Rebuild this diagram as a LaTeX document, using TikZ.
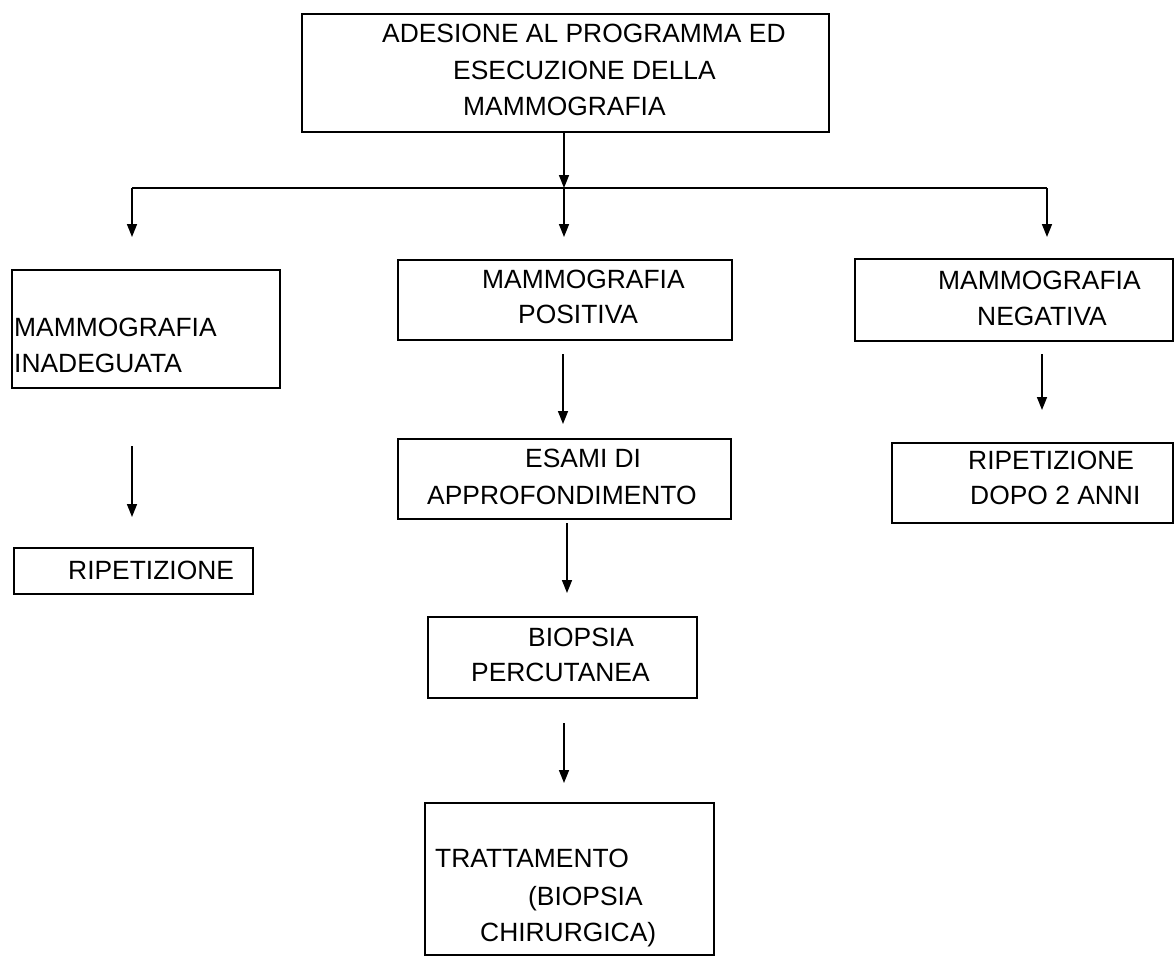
\documentclass[tikz,border=0pt]{standalone}
\usepackage{fontspec}
\setmainfont{Liberation Sans}
\usetikzlibrary{arrows.meta}
\begin{document}
\begin{tikzpicture}[x=1pt,y=-1pt,
  box/.style={draw,line width=2pt,inner sep=0pt,anchor=north west},
  txt/.style={anchor=base west,inner sep=0pt,font=\fontsize{26.4}{32}\selectfont},
  arr/.style={line width=1.6pt,-{Triangle[width=10pt,length=13pt]}},
  ln/.style={line width=2pt}]
\useasboundingbox (0,0) rectangle (1174,958);
\fill[white] (0,0) rectangle (1174,958);
% boxes
\node[box,minimum width=527pt,minimum height=118pt] (top) at (301,13) {};
\node[box,minimum width=268pt,minimum height=118pt] (inad) at (11,269) {};
\node[box,minimum width=334pt,minimum height=80pt] (pos) at (397,259) {};
\node[box,minimum width=318pt,minimum height=82pt] (neg) at (854,258) {};
\node[box,minimum width=239pt,minimum height=46pt] (rip1) at (13,547) {};
\node[box,minimum width=333pt,minimum height=80pt] (esami) at (397,438) {};
\node[box,minimum width=281pt,minimum height=80pt] (rip2) at (891,442) {};
\node[box,minimum width=269pt,minimum height=81pt] (biop) at (427,616) {};
\node[box,minimum width=289pt,minimum height=152pt] (tratt) at (424,802) {};
% texts
\node[txt] (t1) at (382,42.5) {ADESIONE AL PROGRAMMA ED};
\node[txt] (t2) at (453,79.5) {ESECUZIONE DELLA};
\node[txt] (t3) at (463,115.5) {MAMMOGRAFIA};
\node[txt] (i1) at (14,336.5) {MAMMOGRAFIA};
\node[txt] (i2) at (14,372.5) {INADEGUATA};
\node[txt] (p1) at (482,288) {MAMMOGRAFIA};
\node[txt] (p2) at (518,323) {POSITIVA};
\node[txt] (n1) at (938,289) {MAMMOGRAFIA};
\node[txt] (n2) at (977,325) {NEGATIVA};
\node[txt] (r1) at (68,579.5) {RIPETIZIONE};
\node[txt] (e1) at (525,467.5) {ESAMI DI};
\node[txt] (e2) at (427,504.5) {APPROFONDIMENTO};
\node[txt] (r2a) at (968,469.5) {RIPETIZIONE};
\node[txt] (r2b) at (970,504.5) {DOPO 2 ANNI};
\node[txt] (b1) at (528,646.5) {BIOPSIA};
\node[txt] (b2) at (471,681.5) {PERCUTANEA};
\node[txt] (tr1) at (435,867.5) {TRATTAMENTO};
\node[txt] (tr2) at (528,905.5) {(BIOPSIA};
\node[txt] (tr3) at (480,941.5) {CHIRURGICA)};
% connector points
\coordinate (j) at (564,188);
\coordinate (hl) at (132,188);
\coordinate (hr) at (1047,188);
\coordinate (dl) at (132,237);
\coordinate (dm) at (564,237);
\coordinate (dr) at (1047,237);
\coordinate (las) at (132,446);
\coordinate (lae) at (132,517);
\coordinate (m1s) at (563,354);
\coordinate (m1e) at (563,424);
\coordinate (ras) at (1042,354);
\coordinate (rae) at (1042,410);
\coordinate (m2s) at (567,523);
\coordinate (m2e) at (567,593);
\coordinate (m3s) at (564,723);
\coordinate (m3e) at (564,783);
% connectors
\draw[arr] (j |- top.south) -- (j);
\draw[ln] (hl) -- (hr);
\draw[arr] (hl) -- (dl);
\draw[arr] (j) -- (dm);
\draw[arr] (hr) -- (dr);
\draw[arr] (las) -- (lae);
\draw[arr] (m1s) -- (m1e);
\draw[arr] (ras) -- (rae);
\draw[arr] (m2s) -- (m2e);
\draw[arr] (m3s) -- (m3e);
\end{tikzpicture}
\end{document}
